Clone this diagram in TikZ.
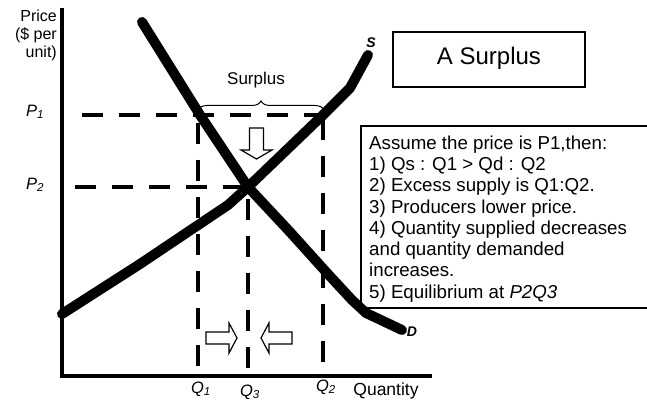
\documentclass[tikz,border=0pt]{standalone}
\usepackage{fontspec}
\setmainfont{Liberation Sans}
\usetikzlibrary{decorations.pathreplacing}
\begin{document}
\begin{tikzpicture}[x=1pt,y=-1pt,
  axisline/.style={line width=4pt},
  curveline/.style={line width=10pt, line cap=round, line join=round},
  guide/.style={line width=4pt, dash pattern=on 21pt off 16pt},
  hollow/.style={draw, line width=1.2pt, fill=white, line join=miter},
  framebox/.style={draw, line width=2pt},
  lbl/.style={inner sep=0pt, font=\fontsize{16.5}{19}\selectfont\itshape},
  curvelbl/.style={inner sep=0pt, font=\fontsize{14}{16}\selectfont\bfseries\itshape}]
\useasboundingbox (0,0) rectangle (647,403);

% axes
\coordinate (origin) at (62,376);
\coordinate (ytop) at (62,8);
\coordinate (xend) at (432,376);
\draw[axisline] (ytop) -- (62,378) (60,376) -- (xend);

% guide lines
\coordinate (p1start) at (82,115);
\coordinate (p2start) at (75,187);
\coordinate (A) at (200,115);
\coordinate (B) at (323,115);
\coordinate (E) at (248,187);
\draw[guide] (p1start) -- (B);
\draw[guide] (p2start) -- (E);
\draw[guide] (198,123) -- (198,367);
\draw[guide] (248,199) -- (248,369);
\draw[guide] (323,119) -- (323,363);

% supply and demand
\draw[curveline] (62,314) -- (140,264) -- (228,205) -- (E) -- (B) -- (350,88) -- (368,55);
\draw[curveline] (142,22) -- (A) -- (E) -- (290,232) -- (327,273) -- (352,300) -- (366,313) -- (402,330);

% curve labels
\node[curvelbl] (S) at (371,43) {S};
\node[curvelbl] (D) at (412,332) {D};

% brace and surplus label
\draw[line width=1pt, decorate, decoration={brace, amplitude=9pt}] (198,110) -- (324,110);
\node[inner sep=0pt, font=\fontsize{17}{20}\selectfont] (surplus) at (256,80) {Surplus};

% hollow arrows
\draw[hollow] (249.5,128) -- (263.5,128) -- (263.5,150) -- (272,150) -- (256.5,159) -- (241,150) -- (249.5,150) -- cycle;
\draw[hollow] (206,332) -- (229,332) -- (229,323) -- (237,338) -- (229,353) -- (229,344) -- (206,344) -- cycle;
\draw[hollow] (292,332) -- (269,332) -- (269,323) -- (261,338) -- (269,353) -- (269,344) -- (292,344) -- cycle;

% axis labels
\node[inner sep=0pt, align=right, anchor=north east, font=\fontsize{16}{17.7}\selectfont] (price) at (57,10.2) {Price\\(\$ per\\unit)};
\node[lbl] (P1) at (35,112) {P\textsubscript{1}};
\node[lbl] (P2) at (35,185) {P\textsubscript{2}};
\node[lbl] (Q1) at (201,389) {Q\textsubscript{1}};
\node[lbl] (Q3) at (250,392) {Q\textsubscript{3}};
\node[lbl] (Q2) at (326,387) {Q\textsubscript{2}};
\node[inner sep=0pt, font=\fontsize{17.5}{20}\selectfont] (quantity) at (386,391) {Quantity};

% title box
\draw[framebox] (393,32) rectangle (585,87);
\node[inner sep=0pt, font=\fontsize{24}{28}\selectfont] (title) at (489,58) {A Surplus};

% explanation box
\draw[framebox] (650,126) -- (361,126) -- (361,308) -- (650,308);
\node[inner sep=0pt, anchor=north west, align=left, font=\fontsize{18.7}{21.3}\selectfont] (notes) at (369,135.4)
  {Assume the price is P1,then:\\
   1) Qs : Q1 > Qd : Q2\\
   2) Excess supply is Q1:Q2.\\
   3) Producers lower price.\\
   4) Quantity supplied decreases\\
   and quantity demanded\\
   increases.\\
   5) Equilibrium at \textit{P2Q3}};
\end{tikzpicture}
\end{document}
